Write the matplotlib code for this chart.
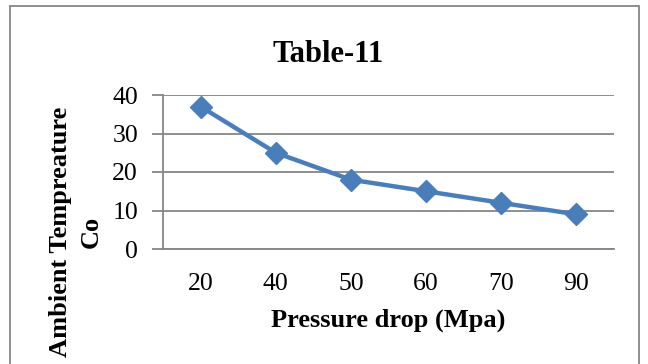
import matplotlib
matplotlib.use("Agg")
import matplotlib.pyplot as plt
from matplotlib.patches import Rectangle

pressure = ["20", "40", "50", "60", "70", "90"]
temperature = [37, 25, 18, 15, 12, 9]
y_ticks = [0, 10, 20, 30, 40]

plt.rcParams['font.family'] = ['Liberation Serif', 'DejaVu Serif']

fig = plt.figure(figsize=(6.48, 3.64), dpi=100)
ax = fig.add_axes([163 / 648, 115 / 364, 451 / 648, 154 / 364])

x = range(len(pressure))
ax.plot(x, temperature, color='#4a7ebb', linewidth=3.2, marker='D',
        markersize=11, markerfacecolor='#4a7ebb', markeredgecolor='#4a7ebb')

ax.set_xlim(-0.5, len(pressure) - 0.5)
ax.set_ylim(0, 40)
ax.set_xticks(list(x))
ax.set_xticklabels(pressure)
ax.set_yticks(y_ticks)
ax.yaxis.grid(True, color='#868686', linewidth=1.3)
ax.set_axisbelow(True)

for side in ['top', 'right']:
    ax.spines[side].set_visible(False)
ax.spines['left'].set_color('#868686')
ax.spines['left'].set_linewidth(1.3)
ax.spines['bottom'].set_color('#868686')
ax.spines['bottom'].set_linewidth(1.3)

ax.tick_params(axis='y', length=8, width=1.3, color='#868686', labelsize=18.5, pad=10)
ax.tick_params(axis='x', length=0, labelsize=18.5, pad=17)

fig.text(328 / 648, 1 - 54 / 364, "Table-11", ha='center', va='center',
         fontsize=22, fontweight='bold')
fig.text(388 / 648, 1 - 320 / 364, "Pressure drop (Mpa)", ha='center', va='center',
         fontsize=19, fontweight='bold')
fig.text(60 / 648, 1 - 232 / 364, "Ambient Tempreature", ha='center', va='center',
         rotation=90, fontsize=19, fontweight='bold')
fig.text(91 / 648, 1 - 232 / 364, "Co", ha='center', va='center',
         rotation=90, fontsize=19, fontweight='bold')

# chart border
fig.patches.append(Rectangle((10 / 648, -0.1), 629 / 648, 1.1 - 6 / 364,
                             transform=fig.transFigure, fill=False,
                             edgecolor='#868686', linewidth=1.3))

plt.savefig('out.png', dpi=100)
